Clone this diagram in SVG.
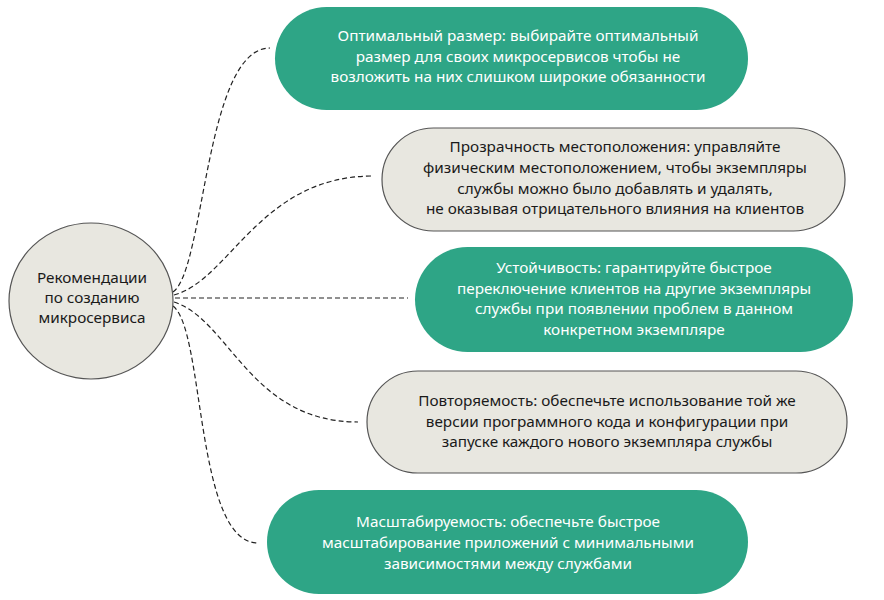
<svg xmlns="http://www.w3.org/2000/svg" width="884" height="600" viewBox="0 0 884 600">
<style>
.g{fill:#2EA586;}
.w{fill:#E8E7E0;stroke:#555;stroke-width:1.2;}
text{font-family:"Noto Sans","Open Sans",sans-serif;font-size:15.3px;text-anchor:middle;}
.tw{fill:#fff;}
.tk{fill:#1a1a1a;}
.c{fill:none;stroke:#222;stroke-width:1.2;stroke-dasharray:5 3;}
</style>
<rect width="884" height="600" fill="#fff"/>
<g id="connectors">
<path class="c" d="M173,292 C205,270 205,48 270,48"/>
<path class="c" d="M174,295 C230,280 260,176 373,176"/>
<path class="c" d="M175,298 L408,298"/>
<path class="c" d="M174,302 C230,320 250,422 358,422"/>
<path class="c" d="M173,306 C205,330 195,543 258,543"/>
</g>
<g id="center">
<ellipse class="w" cx="91" cy="301" rx="82" ry="78"/>
<text class="tk" x="92" y="283">Рекомендации</text>
<text class="tk" x="92" y="303">по созданию</text>
<text class="tk" x="92" y="323">микросервиса</text>
</g>
<g id="n1">
<rect class="g" x="275" y="7" width="473" height="103" rx="51.5"/>
<text class="tw" x="518" y="41">Оптимальный размер: выбирайте оптимальный</text>
<text class="tw" x="518" y="62">размер для своих микросервисов чтобы не</text>
<text class="tw" x="518" y="82">возложить на них слишком широкие обязанности</text>
</g>
<g id="n2">
<rect class="w" x="382" y="128" width="463" height="103" rx="51.5"/>
<text class="tk" x="615" y="152">Прозрачность местоположения: управляйте</text>
<text class="tk" x="615" y="173">физическим местоположением, чтобы экземпляры</text>
<text class="tk" x="615" y="194">службы можно было добавлять и удалять,</text>
<text class="tk" x="615" y="214">не оказывая отрицательного влияния на клиентов</text>
</g>
<g id="n3">
<rect class="g" x="415" y="247" width="438" height="105" rx="52.5"/>
<text class="tw" x="634" y="273">Устойчивость: гарантируйте быстрое</text>
<text class="tw" x="634" y="294">переключение клиентов на другие экземпляры</text>
<text class="tw" x="634" y="314">службы при появлении проблем в данном</text>
<text class="tw" x="634" y="335">конкретном экземпляре</text>
</g>
<g id="n4">
<rect class="w" x="367" y="371" width="480" height="102" rx="51"/>
<text class="tk" x="607" y="406">Повторяемость: обеспечьте использование той же</text>
<text class="tk" x="607" y="427">версии программного кода и конфигурации при</text>
<text class="tk" x="607" y="447">запуске каждого нового экземпляра службы</text>
</g>
<g id="n5">
<rect class="g" x="267" y="490" width="481" height="104" rx="52"/>
<text class="tw" x="508" y="527">Масштабируемость: обеспечьте быстрое</text>
<text class="tw" x="508" y="548">масштабирование приложений с минимальными</text>
<text class="tw" x="508" y="569">зависимостями между службами</text>
</g>
</svg>
